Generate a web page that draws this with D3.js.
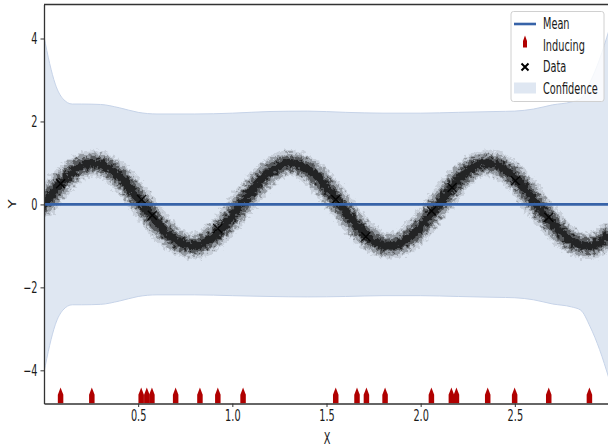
<!DOCTYPE html>
<html lang="en">
<head>
    <meta charset="UTF-8">
    <title>GP inducing points</title>
</head>
<style>
    body { margin: 0; background: #fff; }
    text { font-family: "DejaVu Sans", sans-serif; fill: #1a1a1a; }
    .axis path, .axis line { stroke: #333; }
    .band { fill: #dfe7f2; stroke: #c6d3e8; stroke-width: 1; }
    .mean { fill: none; stroke: #3763a8; stroke-width: 2.6px; }
    .inducing { fill: #b00000; }
</style>
<body>
<svg width="608" height="448"></svg>
<script src="https://d3js.org/d3.v7.min.js"></script>
<script>
    // centre of the noisy data cloud
    var cloudX = [0,0.1,0.2,0.3,0.4,0.5,0.6,0.7,0.8,0.9,1.0,1.1,1.2,1.3,1.4,1.5,1.6,1.7,1.8,1.9,2.0,2.1,2.2,2.3,2.4,2.5,2.6,2.7,2.8,2.9,3.0];
    var cloudY = [0.0,0.56,0.93,0.97,0.68,0.14,-0.44,-0.87,-1.0,-0.77,-0.28,0.31,0.79,1.0,0.85,0.41,-0.17,-0.70,-0.98,-0.92,-0.54,0.03,0.59,0.95,0.96,0.65,0.10,-0.46,-0.88,-1.0,-0.75];
    // highlighted data points
    var dataX = [0.088,0.518,0.575,0.922,1.549,1.709,2.058,2.167,2.503,2.68];
    var dataY = [0.50,0.12,-0.26,-0.58,0.12,-0.78,-0.16,0.41,0.57,-0.31];
    // inducing point locations
    var inducingX = [0.088,0.254,0.516,0.546,0.573,0.699,0.828,0.923,1.057,1.549,1.662,1.712,1.811,2.057,2.163,2.19,2.356,2.499,2.68,2.896];
    // confidence band
    var bandX = [0,0.03,0.06,0.1,0.15,0.2,0.3,0.4,0.5,0.6,0.8,1.0,1.2,1.4,1.6,1.8,2.0,2.2,2.4,2.5,2.6,2.7,2.8,2.85,2.9,2.95,3.0];
    var bandUpper = [4.05,3.4,2.9,2.55,2.42,2.42,2.41,2.33,2.22,2.18,2.18,2.2,2.24,2.25,2.22,2.2,2.2,2.22,2.24,2.25,2.3,2.4,2.47,2.55,2.95,3.5,4.2];
    var bandLower = [-4.05,-3.4,-2.9,-2.55,-2.42,-2.42,-2.41,-2.33,-2.22,-2.18,-2.18,-2.2,-2.22,-2.23,-2.22,-2.2,-2.2,-2.22,-2.24,-2.25,-2.3,-2.4,-2.47,-2.55,-2.95,-3.5,-4.2];
    var meanX = [0, 3];
    var meanY = [0, 0];
    var xTicks = [0.5,1.0,1.5,2.0,2.5];
    var yTicks = [-4,-2,0,2,4];
    var legendNames = ["Mean","Inducing","Data","Confidence"];

    var svg = d3.select("svg");
    var fs = 15;    // font size
    var sx = 0.65;  // narrow text, like the picture
    var x = d3.scaleLinear().domain([0, 3]).range([44, 609]);
    var y = d3.scaleLinear().domain([-4.8, 4.82]).range([403.5, 4.5]);

    svg.append("defs").append("clipPath").attr("id", "plot")
        .append("rect").attr("x", 44).attr("y", 4.5).attr("width", 566).attr("height", 399);
    var rough = svg.select("defs").append("filter").attr("id", "rough")
        .attr("x", "-5%").attr("y", "-20%").attr("width", "110%").attr("height", "140%");
    rough.append("feTurbulence").attr("type", "fractalNoise").attr("baseFrequency", 0.3)
        .attr("numOctaves", 2).attr("seed", 3).attr("result", "n");
    rough.append("feDisplacementMap").attr("in", "SourceGraphic").attr("in2", "n")
        .attr("scale", 10).attr("xChannelSelector", "R").attr("yChannelSelector", "G");

    var g = svg.append("g").attr("clip-path", "url(#plot)");

    // confidence band
    var area = d3.area()
        .x(function (d, i) { return x(bandX[i]); })
        .y0(function (d, i) { return y(bandLower[i]); })
        .y1(function (d, i) { return y(d); })
        .curve(d3.curveMonotoneX);
    g.append("path").datum(bandUpper).attr("class", "band").attr("d", area);

    // data cloud
    var cloud = d3.line()
        .x(function (d, i) { return x(cloudX[i]); })
        .y(function (d) { return y(d); })
        .curve(d3.curveCatmullRom);
    var cg = g.append("g").attr("filter", "url(#rough)");
    [[26, 0.1], [20, 0.25], [14, 0.5], [8, 0.7]].forEach(function (s) {
        cg.append("path").datum(cloudY)
            .attr("d", cloud)
            .attr("fill", "none")
            .attr("stroke", "#111")
            .attr("stroke-width", s[0])
            .attr("stroke-opacity", s[1])
            .attr("stroke-linecap", "round");
    });

    // highlighted data crosses
    g.selectAll(".pt").data(dataX).enter().append("path")
        .attr("class", "pt")
        .attr("d", function (d, i) {
            var cx = x(d), cy = y(dataY[i]), r = 4.5;
            return "M" + (cx - r) + "," + (cy - r) + "L" + (cx + r) + "," + (cy + r) +
                "M" + (cx - r) + "," + (cy + r) + "L" + (cx + r) + "," + (cy - r);
        })
        .attr("stroke", "#000").attr("stroke-width", 1.5).attr("stroke-opacity", 0.85);

    // mean
    var meanLine = d3.line()
        .x(function (d, i) { return x(meanX[i]); })
        .y(function (d) { return y(d); });
    g.append("path").datum(meanY).attr("class", "mean").attr("d", meanLine);

    // inducing markers sitting on the bottom axis
    function arrow(cx, base, w, h) {
        return "M" + (cx - w / 2) + "," + base +
            "L" + (cx - w / 2) + "," + (base - h * 0.55) +
            "L" + cx + "," + (base - h) +
            "L" + (cx + w / 2) + "," + (base - h * 0.55) +
            "L" + (cx + w / 2) + "," + base + "Z";
    }
    g.selectAll(".inducing").data(inducingX).enter().append("path")
        .attr("class", "inducing")
        .attr("d", function (d) { return arrow(x(d), y(-4.8), 5.5, 16); });

    // axes
    var xAxis = svg.append("g").attr("class", "axis")
        .attr("transform", "translate(0," + y(-4.8) + ")")
        .call(d3.axisBottom(x).tickValues(xTicks).tickFormat(d3.format(".1f")).tickSizeInner(3.5).tickSizeOuter(0));
    xAxis.selectAll("text").attr("font-size", fs).attr("y", 7)
        .attr("transform", "scale(" + sx + ",1)");
    var yAxis = svg.append("g").attr("class", "axis")
        .attr("transform", "translate(" + x(0) + ",0)")
        .call(d3.axisLeft(y).tickValues(yTicks).tickFormat(function (d) { return d < 0 ? "\u2212" + (-d) : d; }).tickSizeInner(3.5).tickSizeOuter(0));
    yAxis.selectAll("text").attr("font-size", fs).attr("x", -6.5 / sx)
        .attr("transform", "scale(" + sx + ",1)");
    svg.selectAll(".axis .domain").attr("stroke-width", 1.3);
    svg.selectAll(".axis text").attr("fill", "#1a1a1a").attr("font-family", "DejaVu Sans");
    // top spine
    svg.append("line").attr("x1", x(0)).attr("x2", 608).attr("y1", y(4.82)).attr("y2", y(4.82))
        .attr("stroke", "#333").attr("stroke-width", 1.3);

    svg.append("text").attr("transform", "translate(327,444) scale(" + sx + ",1)")
        .attr("text-anchor", "middle").attr("font-size", fs).text("X");
    svg.append("text").attr("transform", "translate(16,204) rotate(-90) scale(1," + sx + ")")
        .attr("text-anchor", "middle").attr("font-size", fs).text("Y");

    // legend
    var lg = svg.append("g");
    lg.append("rect").attr("x", 511).attr("y", 11.5).attr("width", 93).attr("height", 90)
        .attr("rx", 2.5).attr("fill", "#fff").attr("fill-opacity", 0.8)
        .attr("stroke", "#d0d0d0");
    var rowY = [24, 45.5, 67, 88.5];
    lg.append("line").attr("x1", 514).attr("x2", 536).attr("y1", rowY[0]).attr("y2", rowY[0])
        .attr("stroke", "#3763a8").attr("stroke-width", 2.6);
    lg.append("path").attr("d", arrow(525, rowY[1] + 2, 4, 12)).attr("fill", "#b00000");
    lg.append("path").attr("d", "M521.5," + (rowY[2] - 3.5) + "l7,7m-7,0l7,-7")
        .attr("stroke", "#000").attr("stroke-width", 2);
    lg.append("rect").attr("x", 514).attr("y", rowY[3] - 6).attr("width", 22).attr("height", 11)
        .attr("fill", "#dfe7f2");
    lg.selectAll(".lt").data(legendNames).enter().append("text")
        .attr("class", "lt")
        .attr("font-size", fs)
        .attr("transform", function (d, i) { return "translate(543," + (rowY[i] + 5) + ") scale(" + sx + ",1)"; })
        .text(function (d) { return d; });
</script>
</body>
</html>
